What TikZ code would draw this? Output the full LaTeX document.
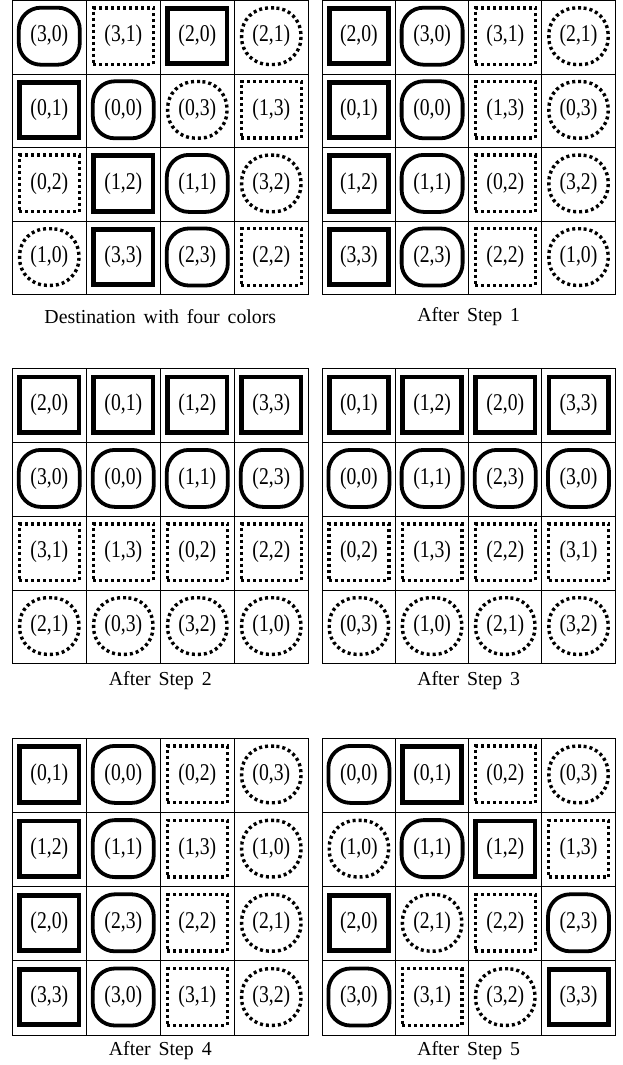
\documentclass[tikz,border=0pt]{standalone}
\usepackage{fontspec}
\setmainfont{Liberation Serif}[WordSpace=1.6]
\newfontfamily\celllabelfont{Liberation Serif}[FakeStretch=0.82]
\tikzset{
  x=1pt, y=-1pt,
  gridline/.style={line width=0.9pt},
  cellbase/.style={inner sep=0pt, font=\celllabelfont\fontsize{24}{26}\selectfont},
  sqsolid/.style={cellbase, draw, line width=4.8pt, minimum width=59.2pt, minimum height=55.4pt},
  rdsolid/.style={cellbase, draw, line width=3.8pt, minimum width=61pt, minimum height=57pt, rounded corners=22pt},
  sqdot/.style={cellbase, draw, line width=3.4pt, minimum width=59.8pt, minimum height=56.6pt, dash pattern=on 3pt off 3pt},
  rddot/.style={cellbase, draw, line width=3.4pt, minimum width=59.4pt, minimum height=56.6pt, dash pattern=on 3pt off 3pt, rounded corners=27pt},
  t20/.style={sqsolid}, t01/.style={sqsolid}, t12/.style={sqsolid}, t33/.style={sqsolid},
  t30/.style={rdsolid}, t00/.style={rdsolid}, t11/.style={rdsolid}, t23/.style={rdsolid},
  t31/.style={sqdot}, t13/.style={sqdot}, t02/.style={sqdot}, t22/.style={sqdot},
  t21/.style={rddot}, t03/.style={rddot}, t32/.style={rddot}, t10/.style={rddot},
  captionstyle/.style={font=\fontsize{19.8}{22}\selectfont, anchor=base, inner sep=0pt}
}
% #1 name, #2 x0, #3 y0, #4 cell width, #5 cell height, #6 caption baseline, #7 caption, #8 rows
\newcommand{\gridpanel}[8]{%
  \draw[gridline] (#2,#3) rectangle ++({4*#4},{4*#5});
  \foreach \k in {1,2,3} {
    \draw[gridline] ({#2+\k*#4},#3) -- ++(0,{4*#5});
    \draw[gridline] (#2,{#3+\k*#5}) -- ++({4*#4},0);
  }
  \foreach [count=\r from 0] \row in {#8} {
    \foreach [count=\c from 0] \a/\b in \row {
      \node[t\a\b] (#1-\r-\c) at ({#2+(\c+0.5)*#4},{#3+(\r+0.5)*#5-1}) {(\a,\b)};
    }
  }
  \node[captionstyle] (#1-cap) at ({#2+2*#4},#6) {#7};
}
\begin{document}
\begin{tikzpicture}
\useasboundingbox (0,0) rectangle (622,1065);
\gridpanel{g0}{12.3}{0.4}{74}{73.6}{323.3}{Destination with four colors}
  {{3/0,3/1,2/0,2/1},{0/1,0/0,0/3,1/3},{0/2,1/2,1/1,3/2},{1/0,3/3,2/3,2/2}}
\gridpanel{g1}{322.3}{0.4}{73.2}{73.6}{321.5}{After Step 1}
  {{2/0,3/0,3/1,2/1},{0/1,0/0,1/3,0/3},{1/2,1/1,0/2,3/2},{3/3,2/3,2/2,1/0}}
\gridpanel{g2}{12.3}{368.7}{74}{73.8}{685}{After Step 2}
  {{2/0,0/1,1/2,3/3},{3/0,0/0,1/1,2/3},{3/1,1/3,0/2,2/2},{2/1,0/3,3/2,1/0}}
\gridpanel{g3}{322.3}{368.7}{73.2}{73.8}{685}{After Step 3}
  {{0/1,1/2,2/0,3/3},{0/0,1/1,2/3,3/0},{0/2,1/3,2/2,3/1},{0/3,1/0,2/1,3/2}}
\gridpanel{g4}{12.3}{738.3}{74}{74.2}{1055}{After Step 4}
  {{0/1,0/0,0/2,0/3},{1/2,1/1,1/3,1/0},{2/0,2/3,2/2,2/1},{3/3,3/0,3/1,3/2}}
\gridpanel{g5}{322.3}{738.3}{73.2}{74.2}{1055}{After Step 5}
  {{0/0,0/1,0/2,0/3},{1/0,1/1,1/2,1/3},{2/0,2/1,2/2,2/3},{3/0,3/1,3/2,3/3}}
\end{tikzpicture}
\end{document}
